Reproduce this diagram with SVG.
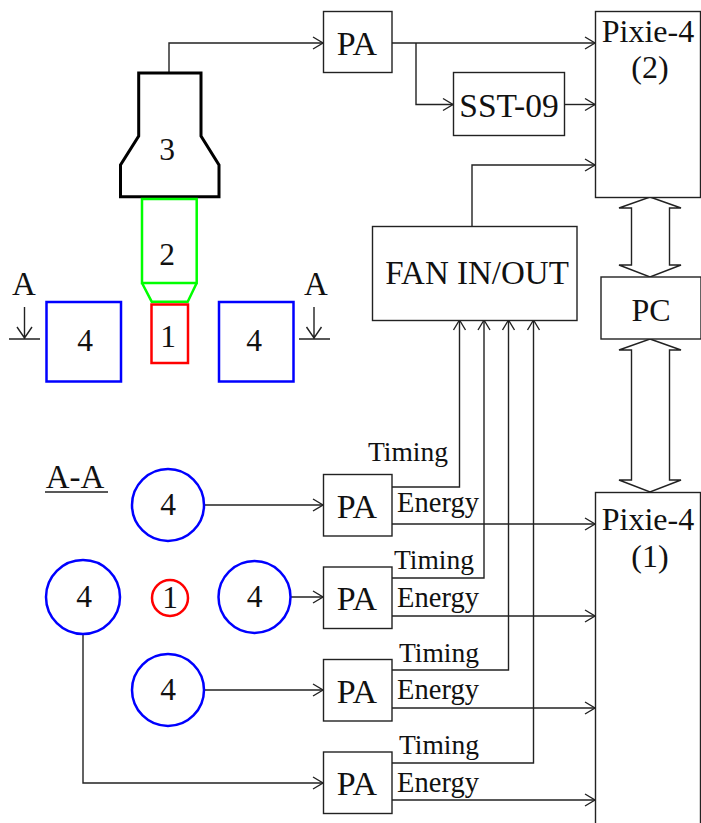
<svg xmlns="http://www.w3.org/2000/svg" width="701" height="823" viewBox="0 0 701 823">
<style>
text{font-family:"Liberation Serif","Times New Roman",serif;fill:#111;text-anchor:middle}
.l{font-size:32px}.pa{font-size:34px}.sst{font-size:33.500px}.fan{font-size:33px}.d{font-size:31.500px}.aa{font-size:33px}.t{font-size:27.500px}.e{font-size:28.500px}
.b{fill:#fff;stroke:#222;stroke-width:1.4}
.c{fill:none;stroke:#222;stroke-width:1.4}
.a{fill:none;stroke:#222;stroke-width:1.4;marker-end:url(#h)}
.blue{fill:none;stroke:#00f;stroke-width:2.500}
.red{fill:none;stroke:#f00;stroke-width:2.500}
.green{fill:none;stroke:#0f0;stroke-width:2.500}
.black{fill:none;stroke:#000;stroke-width:3}
</style>
<defs>
<marker id="h" markerUnits="userSpaceOnUse" markerWidth="14" markerHeight="16" refX="11" refY="7" orient="auto" overflow="visible"><path d="M1 1L11 7L1 13" fill="none" stroke="#222" stroke-width="1.400"/></marker>
</defs>
<g id="connectors">
<path class="a" d="M169 73V43H323"/>
<path class="a" d="M392 43H595"/>
<path class="a" d="M416 43V104.500H453"/>
<path class="a" d="M565 104.500H595"/>
<path class="a" d="M472 226V165H595"/>
<path class="a" d="M204 505H323"/>
<path class="a" d="M290 597H323"/>
<path class="a" d="M204 690H323"/>
<path class="a" d="M83 634V783H323"/>
<path class="a" d="M392 487H459.500V320"/>
<path class="a" d="M392 578H484V320"/>
<path class="a" d="M392 670H508.500V320"/>
<path class="a" d="M392 763H533.500V320"/>
<path class="a" d="M392 524H595"/>
<path class="a" d="M392 616H595"/>
<path class="a" d="M392 708H595"/>
<path class="a" d="M392 800H595"/>
<path class="c" d="M650 197L681 208H669.500V265H681L650 277L619 265H631.500V208H619Z"/>
<path class="c" d="M650 339L681 350H669.500V480H681L650 492L619 480H631.500V350H619Z"/>
<path class="c" d="M9 339H40M24.500 307V338M17 327L24.500 338L32 327"/>
<path class="c" d="M299 339H330M314 307V338M306.500 327L314 338L321.500 327"/>
<path class="c" d="M45 492H108"/>
</g>
<g id="pmt"><path class="black" d="M138.700 73H201V136L219 165V196.700H120.500V165L138.700 136Z"/><text class="d" x="167" y="160">3</text></g>
<g id="guide"><path class="green" d="M142 199H196.700V283H142ZM142 283L151.700 301.700H187.700L196.700 283"/><text class="d" x="167" y="265">2</text></g>
<g id="crystal"><rect class="red" x="151.500" y="304.500" width="36.500" height="58.500"/><text class="d" x="168" y="347">1</text></g>
<g id="det-left"><rect class="blue" x="46.500" y="302" width="74.500" height="79.500"/><text class="d" x="85" y="351">4</text></g>
<g id="det-right"><rect class="blue" x="219" y="302" width="74.500" height="79.500"/><text class="d" x="254" y="351">4</text></g>
<g id="label-a1"><text class="aa" x="24" y="295">A</text></g>
<g id="label-a2"><text class="aa" x="316" y="295">A</text></g>
<g id="label-aa"><text class="aa" x="75" y="488">A-A</text></g>
<g id="c-top"><circle class="blue" cx="168" cy="505" r="36"/><text class="d" x="168" y="515">4</text></g>
<g id="c-right"><circle class="blue" cx="254.500" cy="597" r="36"/><text class="d" x="254.500" y="607">4</text></g>
<g id="c-bottom"><circle class="blue" cx="168" cy="690" r="36"/><text class="d" x="168" y="700">4</text></g>
<g id="c-left"><circle class="blue" cx="83" cy="597" r="37"/><text class="d" x="84" y="607">4</text></g>
<g id="c-center"><circle class="red" cx="170" cy="598" r="18"/><text class="d" x="170" y="608">1</text></g>
<g id="pa-top"><rect class="b" x="323.500" y="11.500" width="68.500" height="61"/><text class="pa" x="357" y="55">PA</text></g>
<g id="sst"><rect class="b" x="453.500" y="72.500" width="111" height="63"/><text class="sst" x="509" y="117">SST-09</text></g>
<g id="pixie2"><rect class="b" x="595.500" y="11.500" width="105" height="186"/><text class="l" x="648" y="42">Pixie-4</text><text class="l" x="650" y="78">(2)</text></g>
<g id="fan"><rect class="b" x="372.500" y="226.500" width="204.500" height="94"/><text class="fan" x="477" y="284">FAN IN/OUT</text></g>
<g id="pc"><rect class="b" x="601" y="277" width="100" height="62"/><text class="l" x="651" y="321">PC</text></g>
<g id="pixie1"><rect class="b" x="595.500" y="492.500" width="105" height="340"/><text class="l" x="648" y="530">Pixie-4</text><text class="l" x="650" y="567">(1)</text></g>
<g id="pa1"><rect class="b" x="323.500" y="474.500" width="68.500" height="61.500"/><text class="pa" x="357" y="518">PA</text></g>
<g id="pa2"><rect class="b" x="323.500" y="567" width="68.500" height="61.500"/><text class="pa" x="357" y="610">PA</text></g>
<g id="pa3"><rect class="b" x="323.500" y="659.500" width="68.500" height="61.500"/><text class="pa" x="357" y="703">PA</text></g>
<g id="pa4"><rect class="b" x="323.500" y="752" width="68.500" height="61.500"/><text class="pa" x="357" y="795">PA</text></g>
<g id="labels">
<text class="t" x="408" y="461">Timing</text><text class="e" x="438" y="512">Energy</text>
<text class="t" x="434" y="569">Timing</text><text class="e" x="438" y="607">Energy</text>
<text class="t" x="439" y="662">Timing</text><text class="e" x="438" y="699">Energy</text>
<text class="t" x="439" y="754">Timing</text><text class="e" x="438" y="792">Energy</text>
</g>
</svg>
